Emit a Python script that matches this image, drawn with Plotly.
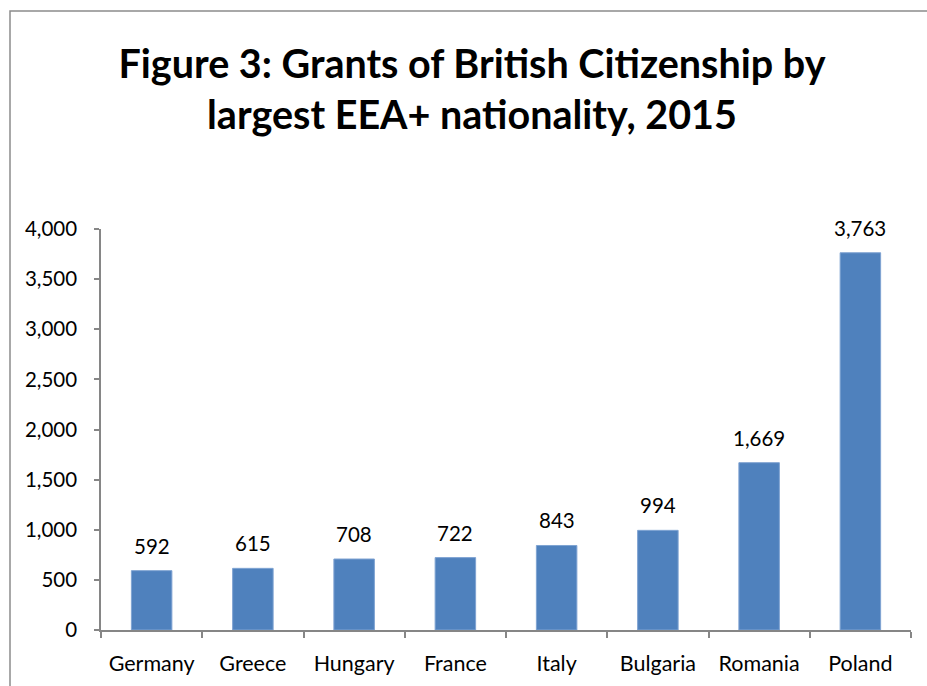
import plotly.graph_objects as go

countries = ["Germany", "Greece", "Hungary", "France", "Italy", "Bulgaria", "Romania", "Poland"]
grants = [592, 615, 708, 722, 843, 994, 1669, 3763]
labels = [f"{v:,}" for v in grants]

FONT = "Lato, Open Sans, sans-serif"
AXIS = "#868686"

fig = go.Figure(go.Bar(
    x=countries, y=grants,
    marker=dict(color="#4F81BD", line=dict(color="#7FA3D2", width=1)),
    width=0.4,
    hoverinfo="skip",
))

for c, v, t in zip(countries, grants, labels):
    fig.add_annotation(x=c, y=v, text=t, showarrow=False, yanchor="bottom",
                       yshift=11, font=dict(family=FONT, size=20.5, color="#000"))

L, R, T, B = 101, 16, 229, 56
W, H = 927, 686
pw, ph = W - L - R, H - T - B
def px(x): return (x - L) / pw
def py(y): return (H - B - y) / ph

fig.add_shape(type="rect", xref="paper", yref="paper",
              x0=px(10), x1=px(960), y0=py(11), y1=py(720),
              line=dict(color="#8c8c8c", width=1.5), fillcolor="rgba(0,0,0,0)", layer="below")

fig.update_layout(
    width=W, height=H,
    margin=dict(l=L, r=R, t=T, b=B),
    paper_bgcolor="white", plot_bgcolor="white",
    showlegend=False,
    title=dict(text="<b>Figure 3: Grants of British Citizenship by<br>largest EEA+ nationality, 2015</b>",
               x=472 / W, xanchor="center", y=1 - 78 / H, yanchor="middle",
               font=dict(family=FONT, size=39.5, color="#000")),
    font=dict(family=FONT, size=20, color="#000"),
)
fig.update_xaxes(showline=True, linecolor=AXIS, linewidth=1.5, ticks="outside", ticklen=6,
                 tickcolor=AXIS, tickwidth=1.5, tickson="boundaries", ticklabelstandoff=13,
                 showgrid=False, automargin=False, tickfont=dict(family=FONT, size=21.5))
fig.update_yaxes(range=[0, 4000], dtick=500, tickformat=",", showline=True, linecolor=AXIS,
                 linewidth=1.5, ticks="outside", ticklen=5, tickcolor=AXIS, tickwidth=1.5,
                 showgrid=False, zeroline=False, ticklabelstandoff=13, automargin=False,
                 tickfont=dict(family=FONT, size=20.5))

fig.write_html("out.html")
